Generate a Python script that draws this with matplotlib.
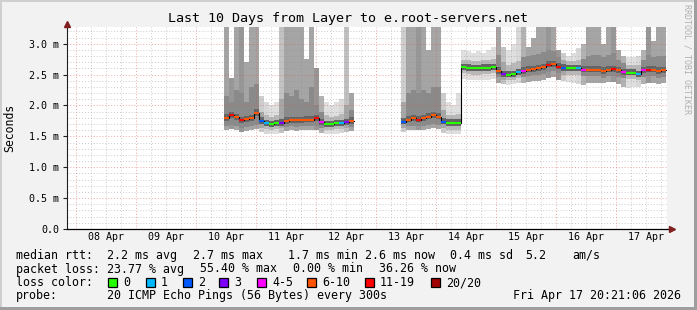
import datetime as dt
import matplotlib
matplotlib.use('Agg')
import matplotlib.pyplot as plt
import matplotlib.dates as mdates
from matplotlib.patches import Rectangle
import numpy as np

W, H = 697, 310
MONO = 'DejaVu Sans Mono'

# time window of the graph
t_start = dt.datetime(2026, 4, 7, 20, 21, 6)
t_end = dt.datetime(2026, 4, 17, 20, 21, 6)
bin_hours = 2

# block A: Apr 10 11:00 .. Apr 12 15:00 (2 h bins)
start_a = dt.datetime(2026, 4, 10, 11, 0)
med_a = [1.80, 1.84, 1.81, 1.76, 1.78, 1.79, 1.88, 1.75, 1.71, 1.70, 1.71, 1.72, 1.75,
         1.76, 1.76, 1.76, 1.77, 1.77, 1.79, 1.73, 1.70, 1.70, 1.71, 1.71, 1.73, 1.75]
loss_a = [5, 6, 5, 6, 5, 5, 5, 2, 1, 0, 0, 3, 5, 5, 5, 5, 5, 5, 6, 4, 0, 0, 0, 1, 3, 5]
hi_a = [3.27, 2.45, 3.27, 3.27, 2.70, 3.27, 3.27, 2.15, 2.05, 2.00, 2.05, 3.27, 3.27,
        3.27, 3.27, 3.27, 2.75, 3.27, 2.60, 2.15, 2.05, 2.00, 2.05, 2.10, 3.27, 2.20]
up_a = [2.15, 2.05, 2.25, 2.20, 2.05, 2.30, 2.35, 1.90, 1.85, 1.82, 1.84, 2.10, 2.20,
        2.15, 2.25, 2.10, 2.05, 2.30, 2.00, 1.90, 1.84, 1.82, 1.83, 1.86, 2.00, 1.92]
dn_a = [1.66, 1.68, 1.66, 1.64, 1.65, 1.66, 1.68, 1.64, 1.62, 1.61, 1.62, 1.63, 1.65,
        1.66, 1.65, 1.66, 1.66, 1.66, 1.67, 1.63, 1.61, 1.61, 1.62, 1.62, 1.63, 1.65]
lo_a = [1.60, 1.62, 1.60, 1.57, 1.59, 1.60, 1.62, 1.57, 1.54, 1.53, 1.54, 1.56, 1.59,
        1.60, 1.59, 1.60, 1.60, 1.60, 1.61, 1.56, 1.54, 1.53, 1.54, 1.55, 1.57, 1.59]

# block B: Apr 13 10:00 .. Apr 17 20:00 (2 h bins)
start_b = dt.datetime(2026, 4, 13, 10, 0)
med_b = [1.74, 1.77, 1.79, 1.77, 1.79, 1.82, 1.84, 1.82, 1.74, 1.72, 1.72, 1.72,
         2.62, 2.61, 2.60, 2.60, 2.61, 2.61, 2.62, 2.56, 2.51, 2.50, 2.51, 2.54, 2.56,
         2.58, 2.59, 2.60, 2.62, 2.66, 2.67, 2.63, 2.61, 2.60, 2.60, 2.60, 2.58, 2.58,
         2.58, 2.58, 2.56, 2.58, 2.59, 2.57, 2.54, 2.53, 2.53, 2.51, 2.57, 2.58, 2.58,
         2.56, 2.57]
loss_b = [2, 5, 5, 6, 5, 5, 5, 5, 2, 0, 0, 0,
          0, 0, 0, 0, 0, 0, 0, 5, 3, 0, 0, 1, 4,
          5, 5, 5, 5, 6, 5, 6, 2, 0, 0, 1, 4, 5,
          5, 5, 5, 5, 6, 5, 4, 0, 0, 1, 4, 6, 5,
          5, 5]
hi_b = [3.27, 3.27, 3.27, 3.27, 3.27, 2.90, 3.27, 3.27, 2.20, 2.05, 2.00, 2.20,
        2.90, 2.88, 2.85, 2.88, 2.85, 2.90, 2.95, 3.27, 2.95, 2.90, 3.00, 3.27, 3.27,
        2.95, 3.10, 3.27, 3.27, 3.27, 3.27, 2.90, 2.85, 2.80, 2.85, 2.93, 3.00, 3.27,
        3.27, 3.27, 3.00, 3.27, 3.27, 2.90, 2.80, 2.78, 2.78, 2.80, 2.90, 3.27, 3.05,
        3.27, 3.27]
up_b = [2.05, 2.20, 2.25, 2.20, 2.25, 2.20, 2.30, 2.30, 1.92, 1.85, 1.84, 1.86,
        2.74, 2.73, 2.72, 2.72, 2.73, 2.73, 2.75, 2.82, 2.70, 2.66, 2.68, 2.72, 2.78,
        2.80, 2.82, 2.84, 2.86, 2.90, 2.88, 2.78, 2.74, 2.72, 2.72, 2.73, 2.75, 2.80,
        2.82, 2.82, 2.78, 2.82, 2.85, 2.74, 2.68, 2.66, 2.66, 2.66, 2.74, 2.82, 2.78,
        2.80, 2.80]
dn_b = [1.63, 1.66, 1.67, 1.66, 1.67, 1.68, 1.70, 1.68, 1.63, 1.61, 1.61, 1.61,
        2.52, 2.51, 2.50, 2.50, 2.51, 2.51, 2.52, 2.46, 2.42, 2.41, 2.42, 2.44, 2.46,
        2.48, 2.49, 2.50, 2.51, 2.54, 2.55, 2.52, 2.50, 2.49, 2.49, 2.49, 2.47, 2.47,
        2.47, 2.47, 2.45, 2.47, 2.48, 2.46, 2.44, 2.43, 2.43, 2.41, 2.46, 2.47, 2.47,
        2.45, 2.46]
lo_b = [1.57, 1.60, 1.61, 1.60, 1.61, 1.62, 1.63, 1.62, 1.56, 1.54, 1.54, 1.54,
        2.43, 2.42, 2.41, 2.42, 2.42, 2.42, 2.43, 2.36, 2.34, 2.33, 2.34, 2.36, 2.37,
        2.38, 2.40, 2.40, 2.42, 2.45, 2.46, 2.42, 2.40, 2.38, 2.36, 2.35, 2.33, 2.36,
        2.37, 2.37, 2.36, 2.38, 2.38, 2.34, 2.30, 2.29, 2.30, 2.30, 2.34, 2.37, 2.36,
        2.35, 2.36]

loss_labels = ['0', '1', '2', '3', '4-5', '6-10', '11-19', '20/20']
loss_colors = ['#26ff00', '#00b8ff', '#0059ff', '#7e00ff', '#ff00ff', '#ff5500', '#ff0000', '#a10000']
smoke_outer = ['#dfdfdf', '#d8d8d8', '#cdcdcd', '#c2c2c2', '#b2b2b2', '#a5a5a5', '#979797', '#888888']

title = 'Last 10 Days from Layer to e.root-servers.net'
stats_rtt = [('median rtt:', 16), ('2.2 ms avg', 107), ('2.7 ms max', 193), ('1.7 ms min', 288),
             ('2.6 ms now', 365), ('0.4 ms sd', 450), ('5.2', 525), ('am/s', 572)]
stats_loss = [('packet loss:', 16), ('23.77 % avg', 107), ('55.40 % max', 200),
              ('0.00 % min', 293), ('36.26 % now', 379)]
swatch_x = [108, 146, 183, 219, 257, 307, 365, 431]
probe_text = '20 ICMP Echo Pings (56 Bytes) every 300s'
stamp = 'Fri Apr 17 20:21:06 2026'


def fx(px):
    return px / W


def fy(py):
    return 1 - py / H


fig = plt.figure(figsize=(W / 100, H / 100), dpi=100, facecolor='#f2f2f2')

# rrdtool style frame shading
fig.patches.append(Rectangle((0, fy(2)), 1, 2 / H, transform=fig.transFigure, color='#cfcfcf', lw=0))
fig.patches.append(Rectangle((0, 0), 2 / W, 1, transform=fig.transFigure, color='#cfcfcf', lw=0))
fig.patches.append(Rectangle((fx(694), 0), 3 / W, 1, transform=fig.transFigure, color='#9e9e9e', lw=0))
fig.patches.append(Rectangle((0, 0), 1, 3 / H, transform=fig.transFigure, color='#9e9e9e', lw=0))

ax = fig.add_axes([fx(67), fy(229), 600 / W, 202 / H])
ax.set_facecolor('white')
for s in ax.spines.values():
    s.set_visible(False)

x0, x1 = mdates.date2num(t_start), mdates.date2num(t_end)
ax.set_xlim(x0, x1)
ax.set_ylim(0, 3.27)
step = bin_hours / 24


def draw_block(start, med, loss, hi, up, dn, lo):
    med, hi, up, dn, lo = map(np.array, (med, hi, up, dn, lo))
    x = mdates.date2num(start) + np.arange(len(med)) * step
    outer = [smoke_outer[c] for c in loss]
    mid = ['#b8b8b8' if c <= 1 else '#a6a6a6' if c <= 3 else '#8a8a8a' for c in loss]
    ax.bar(x, hi - lo, bottom=lo, width=step, align='edge', color=outer, lw=0,
           antialiased=False, zorder=1)
    ax.bar(x, up - dn, bottom=dn, width=step, align='edge', color=mid, lw=0,
           antialiased=False, zorder=1.1)
    ax.bar(x, 0.10, bottom=med - 0.045, width=step, align='edge', color='#646464', lw=0,
           antialiased=False, zorder=1.2)
    xe = np.append(x, x[-1] + step)
    ax.plot(xe, np.append(med, med[-1]), drawstyle='steps-post', color='black', lw=0.8, zorder=4)
    ax.hlines(med, x, x + step, colors=[loss_colors[c] for c in loss], lw=1.5, zorder=5)


draw_block(start_a, med_a, loss_a, hi_a, up_a, dn_a, lo_a)
draw_block(start_b, med_b, loss_b, hi_b, up_b, dn_b, lo_b)

# grid (drawn over the smoke like rrdtool does)
day0 = mdates.date2num(dt.datetime(2026, 4, 7))
for k in range(0, 45):
    g = day0 + k * 0.25
    if x0 < g < x1:
        if k % 4 == 0:
            ax.axvline(g, color='#de5050', alpha=0.5, lw=0.7, ls=(0, (1, 2)), zorder=3)
        else:
            ax.axvline(g, color='#8f8f8f', alpha=0.45, lw=0.7, ls=(0, (1, 2)), zorder=3)
for k in range(1, 33):
    v = k * 0.1
    if k % 5 == 0:
        ax.axhline(v, color='#de5050', alpha=0.5, lw=0.7, ls=(0, (1, 2)), zorder=3)
    else:
        ax.axhline(v, color='#8f8f8f', alpha=0.45, lw=0.7, ls=(0, (1, 2)), zorder=3)

# axes with arrows
ax.plot([0, 0], [0, 1.01], transform=ax.transAxes, color='#1f1f1f', lw=0.8, clip_on=False, zorder=6)
ax.plot([0, 1.003], [0, 0], transform=ax.transAxes, color='black', lw=0.9, clip_on=False, zorder=6)
ax.plot([0], [1.016], transform=ax.transAxes, marker='^', ms=4, color='#801f1f', clip_on=False, zorder=7)
ax.plot([1.0075], [0], transform=ax.transAxes, marker='>', ms=4, color='#801f1f', clip_on=False, zorder=7)

# ticks
noon = [dt.datetime(2026, 4, d, 12) for d in range(8, 18)]
ax.set_xticks(mdates.date2num(noon))
ax.set_xticklabels([d.strftime('%d %b') for d in noon], fontfamily=MONO, fontsize=7.2)
ax.tick_params(axis='x', length=0, pad=2.5)
yt = np.arange(0, 3.01, 0.5)
ax.set_yticks(yt)
ax.set_yticklabels(['0.0' if v == 0 else f'{v:.1f} m' for v in yt], fontfamily=MONO, fontsize=7.2)
ax.tick_params(axis='y', length=3, width=0.8, color='#1f1f1f', pad=2.5)

# texts
fig.text(fx(347.5), fy(22), title, family=MONO, fontsize=9.6, ha='center', va='baseline')
fig.text(fx(10), fy(128), 'Seconds', family=MONO, fontsize=8.3, rotation=90, ha='center', va='center')
fig.text(fx(687.5), fy(59), 'RRDTOOL / TOBI OETIKER', family=MONO, fontsize=6, rotation=-90,
         ha='center', va='center', color='#b0b0b0')

for s, px in stats_rtt:
    fig.text(fx(px), fy(259), s, family=MONO, fontsize=8.35, va='baseline')
for s, px in stats_loss:
    fig.text(fx(px), fy(272.5), s, family=MONO, fontsize=8.35, va='baseline')
fig.text(fx(16), fy(286), 'loss color:', family=MONO, fontsize=8.35, va='baseline')
for lab, col, px in zip(loss_labels, loss_colors, swatch_x):
    fig.patches.append(Rectangle((fx(px), fy(286.5)), 8.5 / W, 8.5 / H, transform=fig.transFigure,
                                 facecolor=col, edgecolor='black', lw=0.9))
    fig.text(fx(px + 15), fy(286), lab, family=MONO, fontsize=8.35, va='baseline')
fig.text(fx(16), fy(299.5), 'probe:', family=MONO, fontsize=8.35, va='baseline')
fig.text(fx(107), fy(299.5), probe_text, family=MONO, fontsize=8.35, va='baseline')
fig.text(fx(513), fy(299.5), stamp, family=MONO, fontsize=8.35, va='baseline')

fig.savefig('out.png', dpi=100, facecolor=fig.get_facecolor())
